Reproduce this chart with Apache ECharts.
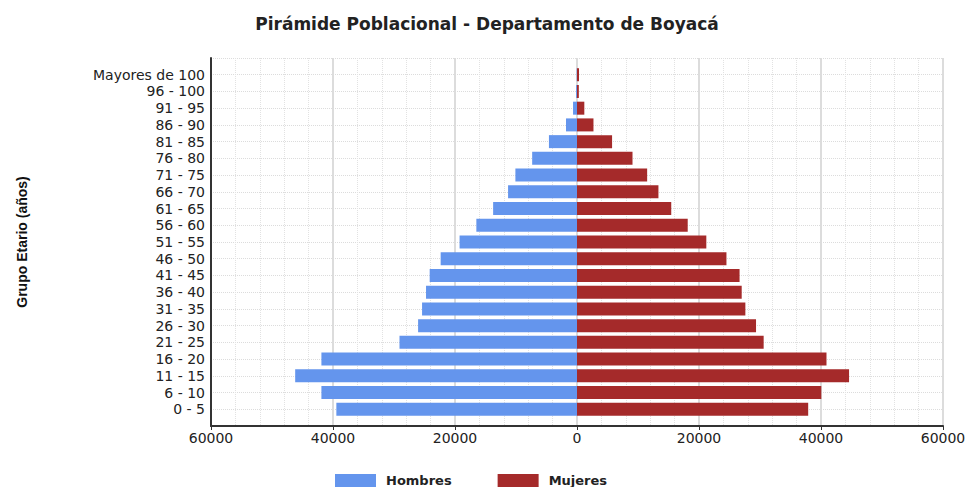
<!DOCTYPE html>
<html>
<head>
<meta charset="utf-8">
<script src="https://cdn.jsdelivr.net/npm/echarts@6/dist/echarts.min.js"></script>
<style>
  html, body { margin: 0; padding: 0; background: #fff; }
  #chart { width: 974px; height: 487px; }
</style>
</head>
<body>
<div id="chart"></div>
<script>
// grupos de edad, de abajo hacia arriba
var grupos = ['0 - 5', '6 - 10', '11 - 15', '16 - 20', '21 - 25', '26 - 30', '31 - 35',
  '36 - 40', '41 - 45', '46 - 50', '51 - 55', '56 - 60', '61 - 65', '66 - 70',
  '71 - 75', '76 - 80', '81 - 85', '86 - 90', '91 - 95', '96 - 100', 'Mayores de 100'];
var hombres = [39450, 41900, 46200, 41900, 29100, 26050, 25400, 24750, 24150, 22350,
  19250, 16500, 13750, 11300, 10100, 7350, 4600, 1800, 650, 150, 60];
var mujeres = [37900, 40050, 44600, 40900, 30600, 29350, 27600, 27000, 26650, 24500,
  21200, 18150, 15450, 13350, 11500, 9100, 5750, 2700, 1200, 300, 330];
var ticksX = [-60000, 60000, 20000]; // min, max, intervalo

// se deja un espacio vacio arriba y abajo del eje
var ejeY = [''].concat(grupos, ['']);
var dataH = [null];
var dataM = [null];
for (var i = 0; i < grupos.length; i++) {
  dataH.push(-hombres[i]);
  dataM.push(mujeres[i]);
}
dataH.push(null);
dataM.push(null);

var chart = echarts.init(document.getElementById('chart'), null, {renderer: 'svg'});
var fuente = 'DejaVu Sans';
var option = {
  animation: false,
  title: {
    text: 'Pirámide Poblacional - Departamento de Boyacá',
    left: 'center',
    top: 10,
    textStyle: {fontFamily: fuente, fontSize: 17, fontWeight: 'bold', color: '#222'}
  },
  legend: {
    left: 335,
    top: 474,
    itemWidth: 41,
    itemHeight: 13,
    itemGap: 46,
    icon: 'rect',
    padding: 0,
    textStyle: {fontFamily: fuente, fontSize: 13, fontWeight: 'bold', color: '#222', lineHeight: 13, padding: [0, 0, 0, 5]},
    data: ['Hombres', 'Mujeres']
  },
  grid: {left: 211, right: 31, top: 58, bottom: 61},
  xAxis: {
    type: 'value',
    min: ticksX[0],
    max: ticksX[1],
    interval: ticksX[2],
    axisLine: {show: true, lineStyle: {color: '#333', width: 2}},
    axisTick: {show: true, length: 4, lineStyle: {color: '#333'}},
    axisLabel: {
      fontFamily: fuente, fontSize: 14, color: '#222', margin: 5,
      formatter: function (v) { return Math.abs(v); }
    },
    splitLine: {show: true, lineStyle: {color: '#dcdcdc', width: 2}},
    minorTick: {show: false, splitNumber: 5},
    minorSplitLine: {show: true, lineStyle: {color: '#e2e2e2', type: 'dotted', width: 1}}
  },
  yAxis: {
    type: 'category',
    data: ejeY,
    boundaryGap: false,
    name: 'Grupo Etario (años)',
    nameLocation: 'middle',
    nameRotate: 90,
    nameGap: 182,
    nameTextStyle: {fontFamily: 'Liberation Sans', fontSize: 14, fontWeight: 'bold', color: '#111'},
    axisLine: {show: true, onZero: false, lineStyle: {color: '#333', width: 2}},
    axisTick: {show: false},
    axisLabel: {fontFamily: fuente, fontSize: 14, color: '#222', margin: 6, interval: 0},
    splitLine: {show: true, lineStyle: {color: '#dcdcdc', type: 'dotted', width: 1}}
  },
  series: [
    {
      name: 'Hombres',
      type: 'bar',
      data: dataH,
      barWidth: 13,
      barGap: '-100%',
      itemStyle: {color: '#6495ED'}
    },
    {
      name: 'Mujeres',
      type: 'bar',
      data: dataM,
      barWidth: 13,
      itemStyle: {color: '#A52A2A'}
    }
  ]
};
chart.setOption(option);
</script>
</body>
</html>
